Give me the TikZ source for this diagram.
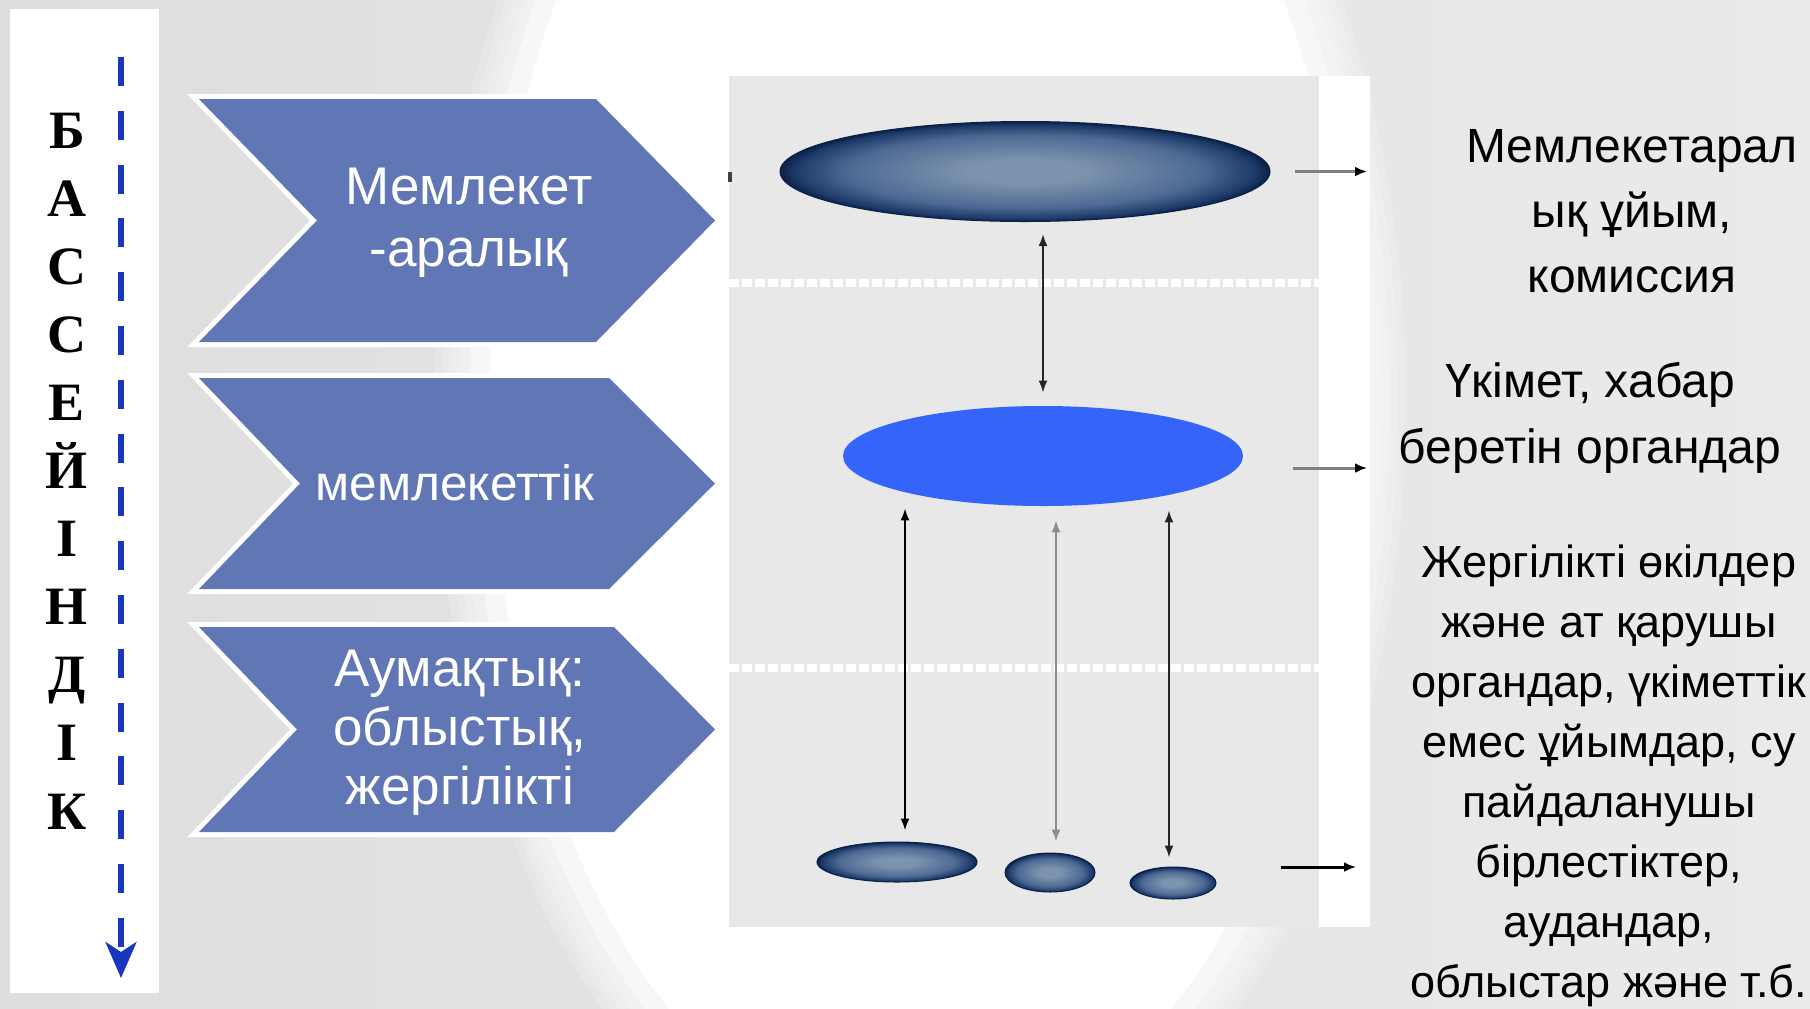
\documentclass[tikz,border=0pt]{standalone}
\usepackage{fontspec}
\setmainfont{Liberation Sans}
\newfontfamily\tnrfont{Liberation Serif}
\usetikzlibrary{arrows.meta,shapes.geometric}
\definecolor{bgL}{RGB}{222,222,222}
\definecolor{bgR}{RGB}{234,234,234}
\definecolor{boxgray}{RGB}{232,232,232}
\definecolor{chev}{RGB}{97,119,181}
\definecolor{dashblue}{RGB}{25,55,190}
\definecolor{brightblue}{RGB}{52,100,250}
\definecolor{ecen}{RGB}{124,147,173}
\definecolor{emid}{RGB}{78,106,148}
\definecolor{eout}{RGB}{28,58,104}
\definecolor{erim}{RGB}{12,32,70}
\pgfdeclareradialshading{darkell}{\pgfpoint{0bp}{0bp}}{color(0bp)=(ecen); color(6bp)=(ecen); color(18bp)=(emid); color(23.5bp)=(eout); color(25bp)=(erim); color(50bp)=(erim)}
\tikzset{
  chevshape/.style={fill=chev, preaction={draw=white, line width=5pt, line join=miter}},
  chevtext/.style={text=white, inner sep=0pt, align=center},
  letter/.style={font=\tnrfont\bfseries\fontsize{27}{27}\selectfont, inner sep=0pt, anchor=base},
  dkell/.style={ellipse, inner sep=0pt, shade, shading=darkell, draw=erim, line width=0.5pt},
  dbl/.style={line width=1pt, {Latex[length=6pt,width=4.5pt]}-{Latex[length=6pt,width=4.5pt]}},
  harrow/.style={line width=1.5pt, draw=black!50, -{Latex[length=6pt,width=5pt,color=black]}},
  rtext/.style={text=black, align=center, inner sep=0pt},
  sepline/.style={draw=white, line width=4pt, dash pattern=on 5pt off 1.5pt},
  bluedash/.style={draw=dashblue, line width=2.75pt, dash pattern=on 14.5pt off 12.4pt, -{Stealth[length=18pt,width=15.5pt,inset=5pt]}}
}
\begin{document}
\begin{tikzpicture}[x=0.5pt,y=-0.5pt]
\useasboundingbox (0,0) rectangle (1810,1008);
% background
\shade[left color=bgL, right color=bgR] (0,0) rectangle (1810,1008);
\begin{scope}
  \clip (0,0) rectangle (1810,1008);
  \foreach \d in {36,28,20,12}
    \fill[white, opacity=0.18] (920,400) ellipse[x radius={450+\d}, y radius={770+\d}];
  \fill[white!97!black] (920,400) ellipse[x radius=450, y radius=770];
  \fill[white] (920,400) ellipse[x radius=430, y radius=750];
\end{scope}
% left panel
\fill[white] (10,9) rectangle (159,993);
\coordinate (bt) at (121,57);
\coordinate (bb) at (121,978);
\draw[bluedash] (bt) -- (bb);
\foreach \ch [count=\i] in {Б,А,С,С,Е,Й,І,Н,Д,І,К}
  \node[letter] (l\i) at (67,{148+68.1*(\i-1)}) {\ch};
% chevrons
\path[chevshape] (199,99) -- (596,99) -- (715,220.5) -- (596,342) -- (199,342) -- (317,220.5) -- cycle;
\path[chevshape] (199,378) -- (609,378) -- (715,483.5) -- (609,589) -- (199,589) -- (300,483.5) -- cycle;
\path[chevshape] (199,627) -- (614,627) -- (715,729.5) -- (614,832) -- (199,832) -- (297,729.5) -- cycle;
\node[chevtext, font=\fontsize{26.5}{31}\selectfont] (c1t) at (469,222.5) {Мемлекет\\-аралық};
\node[chevtext, font=\fontsize{24.8}{30}\selectfont, anchor=base] (c2t) at (455,500) {мемлекеттік};
\node[chevtext, font=\fontsize{26.5}{29.5}\selectfont] (c3t) at (460,732.5) {Аумақтық:\\облыстық,\\жергілікті};
% right diagram box
\fill[boxgray] (729,76) rectangle (1319,927);
\fill[white] (1319,76) rectangle (1370,927);
\draw[sepline] (729,283) -- (1319,283);
\draw[sepline] (729,668) -- (1319,668);
\fill[black!75] (728,172) rectangle (732,182);
\node[dkell, minimum width=245pt, minimum height=50pt] (e1) at (1025,171.5) {};
\node[ellipse, inner sep=0pt, fill=brightblue, minimum width=200pt, minimum height=50pt] (e2) at (1043,456) {};
\node[dkell, minimum width=80pt, minimum height=20pt] (s1) at (897,862) {};
\node[dkell, minimum width=45pt, minimum height=19.5pt] (s2) at (1050,872.5) {};
\node[dkell, minimum width=43pt, minimum height=16pt] (s3) at (1173,883) {};
\coordinate (x1) at (1043,0);
\coordinate (x2) at (905,0);
\coordinate (x3) at (1056,0);
\coordinate (x4) at (1169,0);
\draw[dbl, draw=black!85, shorten <=6pt, shorten >=6.5pt] (e1.south -| x1) -- (e2.north -| x1);
\draw[dbl, draw=black, shorten <=1pt, shorten >=5.5pt] (e2.south -| x2) -- (s1.north -| x2);
\draw[dbl, draw=black!45, shorten <=7pt, shorten >=5.5pt] (e2.south -| x3) -- (s2.north -| x3);
\draw[dbl, draw=black!85, shorten <=2pt, shorten >=4.5pt] (e2.south -| x4) -- (s3.north -| x4);
\coordinate (h1) at (1367,171.5);
\coordinate (h2) at (1367,468);
\coordinate (h3) at (1356,867);
\draw[harrow, shorten <=12pt] (e1.east) -- (h1);
\draw[harrow, shorten <=25pt] (e2.east |- h2) -- (h2);
\draw[harrow, draw=black, shorten <=32pt] (s3.east |- h3) -- (h3);
% right texts
\node[rtext, font=\fontsize{24}{32.5}\selectfont] (t1) at (1632,211) {Мемлекетарал\\ық ұйым,\\комиссия};
\node[rtext, font=\fontsize{24}{33}\selectfont] (t2) at (1590,418) {Үкімет, хабар\\беретін органдар};
\node[rtext, font=\fontsize{22.5}{30}\selectfont] (t3) at (1609,776) {Жергілікті өкілдер\\және ат қарушы\\органдар, үкіметтік\\емес ұйымдар, су\\пайдаланушы\\бірлестіктер,\\аудандар,\\облыстар және т.б.};
\end{tikzpicture}
\end{document}
